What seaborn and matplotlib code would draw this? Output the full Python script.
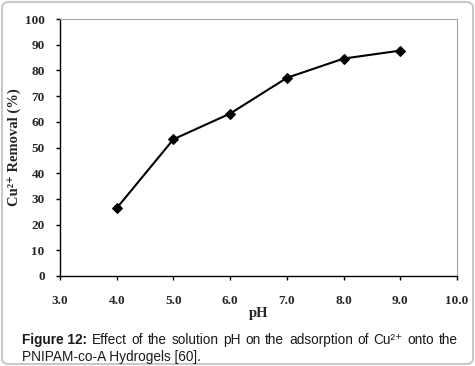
# Cu2+ removal vs pH, recreated with seaborn
import seaborn as sns
import matplotlib.pyplot as plt
import pandas as pd
from matplotlib.patches import FancyBboxPatch

# data
ph = [4.0, 5.0, 6.0, 7.0, 8.0, 9.0]
removal = [26.4, 53.2, 63.2, 77.1, 84.6, 87.7]
x_ticks = [3.0, 4.0, 5.0, 6.0, 7.0, 8.0, 9.0, 10.0]
y_ticks = [0, 10, 20, 30, 40, 50, 60, 70, 80, 90, 100]

df = pd.DataFrame({'pH': ph, 'removal': removal})

sns.set_style('ticks')
serif = ['Liberation Serif', 'DejaVu Serif']
sans = ['Liberation Sans', 'DejaVu Sans']

fig = plt.figure(figsize=(4.75, 3.66), dpi=100)
ax = fig.add_axes([60 / 475, 1 - 276 / 366, 397 / 475, 257 / 366])

sns.lineplot(data=df, x='pH', y='removal', ax=ax, color='black', linewidth=1.5,
             marker='D', markersize=5.5, mfc='black', mec='black')

ax.set_xlim(3.0, 10.0)
ax.set_ylim(0, 100)
ax.set_xticks(x_ticks)
ax.set_xticklabels([f'{v:.1f}' for v in x_ticks], family=serif, fontweight='bold', fontsize=9.5)
ax.set_yticks(y_ticks)
ax.set_yticklabels([str(v) for v in y_ticks], family=serif, fontweight='bold', fontsize=9.5)
ax.tick_params(axis='x', direction='out', length=3, width=1, color='black', pad=11)
ax.tick_params(axis='y', direction='out', length=3, width=1, color='black', pad=8)

ax.set_xlabel('pH', family=serif, fontweight='bold', fontsize=10.5, labelpad=0)
ax.set_ylabel('Cu²⁺ Removal (%)', family=serif, fontweight='bold', fontsize=10.5, labelpad=3)

# plot-area frame: black axes, grey top/right
for s in ['left', 'bottom']:
    ax.spines[s].set_color('black')
    ax.spines[s].set_linewidth(1)
for s in ['top', 'right']:
    ax.spines[s].set_visible(True)
    ax.spines[s].set_color('#a6a6a6')
    ax.spines[s].set_linewidth(0.8)

# caption, line 1 justified word by word
words = ['Figure 12:', 'Effect', 'of', 'the', 'solution', 'pH', 'on', 'the', 'adsorption',
         'of', 'Cu²⁺', 'onto', 'the']
fig.canvas.draw()
r = fig.canvas.get_renderer()
txts = []
for i, w in enumerate(words):
    t = fig.text(0, 1 - 340 / 366, w, family=sans, fontsize=9.8, va='center',
                 fontweight='bold' if i == 0 else 'normal', color='#1a1a1a')
    txts.append(t)
widths = [t.get_window_extent(r).width for t in txts]
x0, x1 = 22, 458
gap = (x1 - x0 - sum(widths)) / (len(words) - 1)
x = x0
for t, w in zip(txts, widths):
    t.set_x(x / 475)
    x += w + gap
fig.text(22 / 475, 1 - 357 / 366, 'PNIPAM-co-A Hydrogels [60].', family=sans,
         fontsize=9.8, va='center', color='#1a1a1a')

# rounded grey border around the whole figure
fig.patches.append(FancyBboxPatch((2 / 475, 2 / 366), 471 / 475, 362 / 366,
                                  boxstyle='round,pad=0,rounding_size=0.015',
                                  transform=fig.transFigure, fill=False,
                                  edgecolor='#c8c8c8', linewidth=1.5))

fig.savefig('out.png', dpi=100)
